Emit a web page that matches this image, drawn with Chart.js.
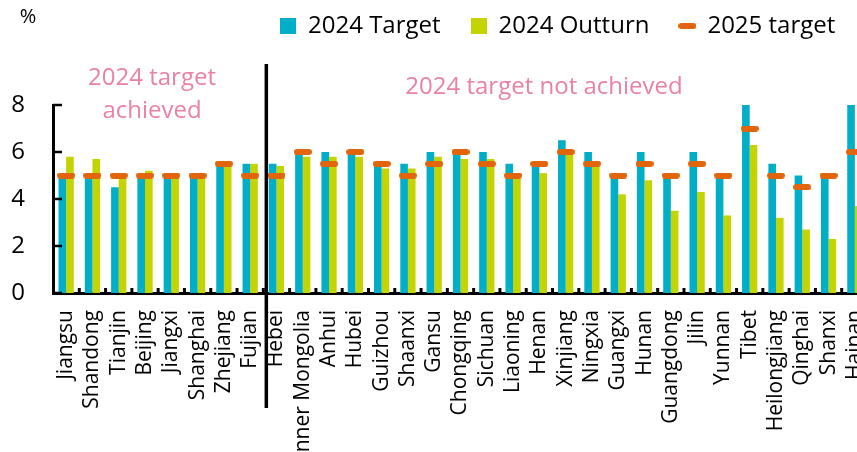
<!DOCTYPE html>
<html>
<head>
<meta charset="utf-8">
<script src="https://cdn.jsdelivr.net/npm/chart.js@4.4.1/dist/chart.umd.min.js"></script>
<style>
  html, body { margin: 0; padding: 0; background: #fff; overflow: hidden; }
  #wrap { width: 857px; height: 452px; overflow: hidden; }
  #chart { display: block; width: 868px; height: 452px; }
</style>
</head>
<body>
<div id="wrap"><canvas id="chart" width="868" height="452"></canvas></div>
<script>
const provinces = ['Jiangsu', 'Shandong', 'Tianjin', 'Beijing', 'Jiangxi', 'Shanghai', 'Zhejiang', 'Fujian',
    'Hebei', 'Inner Mongolia', 'Anhui', 'Hubei', 'Guizhou', 'Shaanxi', 'Gansu', 'Chongqing', 'Sichuan',
    'Liaoning', 'Henan', 'Xinjiang', 'Ningxia', 'Guangxi', 'Hunan', 'Guangdong', 'Jilin', 'Yunnan', 'Tibet',
    'Heilongjiang', 'Qinghai', 'Shanxi', 'Hainan'];
const target2024 = [5, 5, 4.5, 5, 5, 5, 5.5, 5.5, 5.5, 6, 6, 6, 5.5, 5.5, 6, 6, 6, 5.5, 5.5, 6.5, 6, 5, 6, 5, 6, 5, 8, 5.5, 5, 5, 8];
const outturn2024 = [5.8, 5.7, 5.1, 5.2, 5.1, 5.0, 5.5, 5.5, 5.4, 5.8, 5.8, 5.8, 5.3, 5.3, 5.8, 5.7, 5.7, 5.1, 5.1, 6.1, 5.4, 4.2, 4.8, 3.5, 4.3, 3.3, 6.3, 3.2, 2.7, 2.3, 3.7];
const target2025 = [5, 5, 5, 5, 5, 5, 5.5, 5, 5, 6, 5.5, 6, 5.5, 5, 5.5, 6, 5.5, 5, 5.5, 6, 5.5, 5, 5.5, 5, 5.5, 5, 7, 5, 4.5, 5, 6];
const seriesNames = ['2024 Target', '2024 Outturn', '2025 target'];
const yTicks = [0, 2, 4, 6, 8];
const achievedCount = 8; // primeras 8 provincias cumplieron el objetivo
const notes = ['2024 target', 'achieved', '2024 target not achieved'];

const teal = '#00AEC8';
const lime = '#C3D400';
const orange = '#E2650C';
const pink = '#E982A3';
const font = '"Open Sans", "Noto Sans", sans-serif';

// iconos: cuadrado para barras, guion redondeado para el objetivo 2025
function makeIcon(w, h, color, r) {
    const c = document.createElement('canvas');
    c.width = w; c.height = h;
    const g = c.getContext('2d');
    g.fillStyle = color;
    g.beginPath();
    g.roundRect(0, 0, w, h, r);
    g.fill();
    return c;
}
const dash = makeIcon(18, 6, orange, 3);
const legendIcons = [makeIcon(16, 16, teal, 0), makeIcon(16, 16, lime, 0), dash];

const decorations = {
    id: 'decorations',
    beforeLayout(chart) {
        const lg = chart.legend;
        if (lg && !lg._fixed) {
            const fit = lg.fit;
            lg.fit = function () { fit.call(this); this.height = 105; };
            lg._fixed = true;
        }
    },
    afterLayout(chart) {
        const lg = chart.legend;
        lg.left = 250; lg.right = lg.left + lg.width;
        lg.top = -16; lg.bottom = lg.top + lg.height;
    },
    afterDraw(chart) {
        const { ctx, chartArea: a, scales: { x, y } } = chart;
        ctx.save();
        ctx.strokeStyle = '#000';
        ctx.lineWidth = 2.5;
        // marcas hacia dentro en el eje y
        y.ticks.forEach(t => {
            const py = y.getPixelForValue(t.value);
            ctx.beginPath();
            ctx.moveTo(a.left, py);
            ctx.lineTo(a.left + 9, py);
            ctx.stroke();
        });
        // marcas entre categorías
        const half = (x.getPixelForValue(1) - x.getPixelForValue(0)) / 2;
        ctx.lineWidth = 3;
        for (let i = 0; i < provinces.length; i++) {
            const px = x.getPixelForValue(i) + half;
            ctx.beginPath();
            ctx.moveTo(px, a.bottom);
            ctx.lineTo(px, a.bottom - 5);
            ctx.stroke();
        }
        // separador entre grupos
        const dx = (x.getPixelForValue(achievedCount - 1) + x.getPixelForValue(achievedCount)) / 2 + 3;
        ctx.lineWidth = 3.5;
        ctx.beginPath();
        ctx.moveTo(dx, 64);
        ctx.lineTo(dx, 408);
        ctx.stroke();
        // textos
        ctx.fillStyle = pink;
        ctx.font = '24px ' + font;
        ctx.textAlign = 'center';
        ctx.textBaseline = 'middle';
        ctx.fillText(notes[0], 152, 78);
        ctx.fillText(notes[1], 152, 111);
        ctx.fillText(notes[2], 544, 87);
        ctx.fillStyle = '#000';
        ctx.font = '20px ' + font;
        ctx.fillText('%', 28, 17);
        ctx.restore();
    }
};

new Chart(document.getElementById('chart'), {
    data: {
        labels: provinces,
        datasets: [
            { type: 'bar', label: seriesNames[0], data: target2024, backgroundColor: teal, order: 1 },
            { type: 'bar', label: seriesNames[1], data: outturn2024, backgroundColor: lime, order: 1 },
            {
                type: 'line', label: seriesNames[2], data: target2025, showLine: false,
                pointStyle: dash, pointRadius: 9, pointHoverRadius: 9, order: 0, clip: false
            }
        ]
    },
    options: {
        responsive: false,
        animation: false,
        // sin relleno automático: el original queda cortado a la derecha (Hainan)
        layout: { autoPadding: false, padding: 0 },
        datasets: {
            bar: { categoryPercentage: 0.58, barPercentage: 1 }
        },
        plugins: {
            tooltip: { enabled: false },
            legend: {
                position: 'top',
                align: 'start',
                labels: {
                    usePointStyle: true,
                    boxWidth: 16,
                    boxHeight: 16,
                    padding: 30,
                    color: '#000',
                    font: { family: font, size: 24 },
                    sort: (a, b) => a.datasetIndex - b.datasetIndex,
                    generateLabels(chart) {
                        const items = Chart.defaults.plugins.legend.labels.generateLabels(chart);
                        items.forEach(it => { it.pointStyle = legendIcons[it.datasetIndex]; });
                        return items;
                    }
                }
            }
        },
        scales: {
            x: {
                grid: { display: false, drawTicks: false },
                border: { display: true, color: '#000', width: 3 },
                ticks: {
                    color: '#000', font: { family: font, size: 21 },
                    minRotation: 90, maxRotation: 90, autoSkip: false, padding: 17
                },
                afterFit(scale) {
                    scale.height = 159;
                    scale.paddingLeft = 0;
                    scale.paddingRight = 0;
                }
            },
            y: {
                min: yTicks[0], max: yTicks[yTicks.length - 1],
                grid: { display: false, drawTicks: false },
                border: { display: true, color: '#000', width: 3 },
                ticks: {
                    stepSize: 2, color: '#000', font: { family: font, size: 24 }, padding: 28
                },
                afterFit(scale) { scale.width = 53; }
            }
        }
    },
    plugins: [decorations]
});
</script>
</body>
</html>
